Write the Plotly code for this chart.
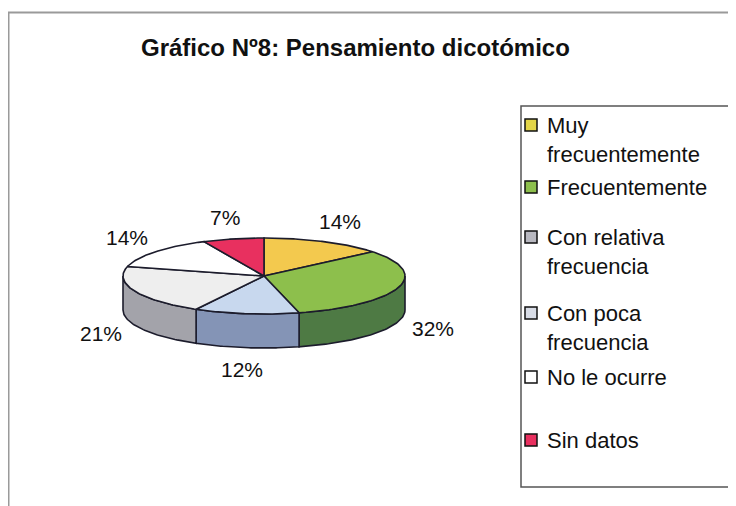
import numpy as np
import plotly.graph_objects as go

# ---- data ----
categories = ["Muy frecuentemente", "Frecuentemente", "Con relativa frecuencia",
              "Con poca frecuencia", "No le ocurre", "Sin datos"]
legend_labels = ["Muy<br>frecuentemente", "Frecuentemente", "Con relativa<br>frecuencia",
                 "Con poca<br>frecuencia", "No le ocurre", "Sin datos"]
values = [14, 32, 12, 21, 14, 7]
title_text = "Gráfico Nº8: Pensamiento dicotómico"

# ---- styles ----
top_colors = ["#f3c94e", "#8dbf4c", "#c8d8ee", "#eeeeee", "#ffffff", "#e8305f"]
side_colors = ["#c49a30", "#4e7a44", "#8494b6", "#a3a3aa", "#c8c8c8", "#a02040"]
legend_colors = ["#e3d548", "#8dbf4c", "#b8b8c0", "#d8dce6", "#ffffff", "#e8305f"]
legend_y = [125, 187, 237, 313, 377, 440]
edge = "#1c1c2c"
FONT = "Liberation Sans, Arial, sans-serif"

W, H = 736, 506
OFF = 8  # page body margin compensation
cx, cy, rx, ry, depth = 264, 276, 141, 38, 34

fig = go.Figure()

total = float(sum(values))
cum = np.concatenate([[0], np.cumsum(values)]) / total


def pt(f, dy=0.0):
    th = 2 * np.pi * np.asarray(f)
    return cx + rx * np.sin(th), cy - ry * np.cos(th) + dy


# side walls (visible front half: fractions 0.25..0.75)
for i in range(len(values)):
    a, b = max(cum[i], 0.25), min(cum[i + 1], 0.75)
    if b <= a:
        continue
    f = np.linspace(a, b, 60)
    xt, yt = pt(f)
    xb, yb = pt(f[::-1], depth)
    fig.add_trace(go.Scatter(
        x=np.concatenate([xt, xb, xt[:1]]), y=np.concatenate([yt, yb, yt[:1]]),
        mode="lines", fill="toself", fillcolor=side_colors[i],
        line=dict(color=edge, width=1.6), hoverinfo="skip", showlegend=False))

# top faces
for i in range(len(values)):
    f = np.linspace(cum[i], cum[i + 1], 80)
    xt, yt = pt(f)
    fig.add_trace(go.Scatter(
        x=np.concatenate([[cx], xt, [cx]]), y=np.concatenate([[cy], yt, [cy]]),
        mode="lines", fill="toself", fillcolor=top_colors[i],
        line=dict(color=edge, width=1.6), name=categories[i],
        hovertemplate=categories[i] + ": %{text}<extra></extra>",
        text=[f"{values[i]}%"] * (len(f) + 2), showlegend=False))

# percentage labels
for i, v in enumerate(values):
    m = 2 * np.pi * (cum[i] + cum[i + 1]) / 2
    lx = cx + 178 * np.sin(m)
    ly = cy - 60 * np.cos(m) + (depth if np.cos(m) < 0 else 0)
    fig.add_annotation(x=lx, y=ly, text=f"{v}%", showarrow=False,
                       font=dict(family=FONT, size=21, color="#111"),
                       xanchor="center", yanchor="middle")

# legend (manual, Excel-like)
shapes = [
    dict(type="rect", x0=521, x1=731, y0=106, y1=487, line=dict(color="#555", width=1.5),
         fillcolor="rgba(0,0,0,0)", layer="below"),
    dict(type="line", x0=8, x1=W + OFF, y0=12.5, y1=12.5, line=dict(color="#9a9a9a", width=2)),
    dict(type="line", x0=8.5, x1=8.5, y0=12, y1=H + OFF, line=dict(color="#9a9a9a", width=2)),
]
for i, lab in enumerate(legend_labels):
    yy = legend_y[i]
    shapes.append(dict(type="rect", x0=525, x1=537, y0=yy - 6, y1=yy + 6,
                       fillcolor=legend_colors[i], line=dict(color="#111", width=1.5)))
    fig.add_annotation(x=545, y=yy - 14, text=lab, showarrow=False, align="left",
                       xanchor="left", yanchor="top",
                       font=dict(family=FONT, size=22, color="#111"))

fig.add_annotation(x=355, y=47, text="<b>" + title_text + "</b>", showarrow=False,
                   xanchor="center", yanchor="middle",
                   font=dict(family=FONT, size=24, color="#111"))

fig.update_layout(
    width=W, height=H, margin=dict(l=0, r=0, t=0, b=0),
    paper_bgcolor="white", plot_bgcolor="white", shapes=shapes,
    xaxis=dict(range=[OFF, W + OFF], visible=False, fixedrange=True),
    yaxis=dict(range=[H + OFF, OFF], visible=False, fixedrange=True),
    showlegend=False,
)
fig.write_html("out.html")
